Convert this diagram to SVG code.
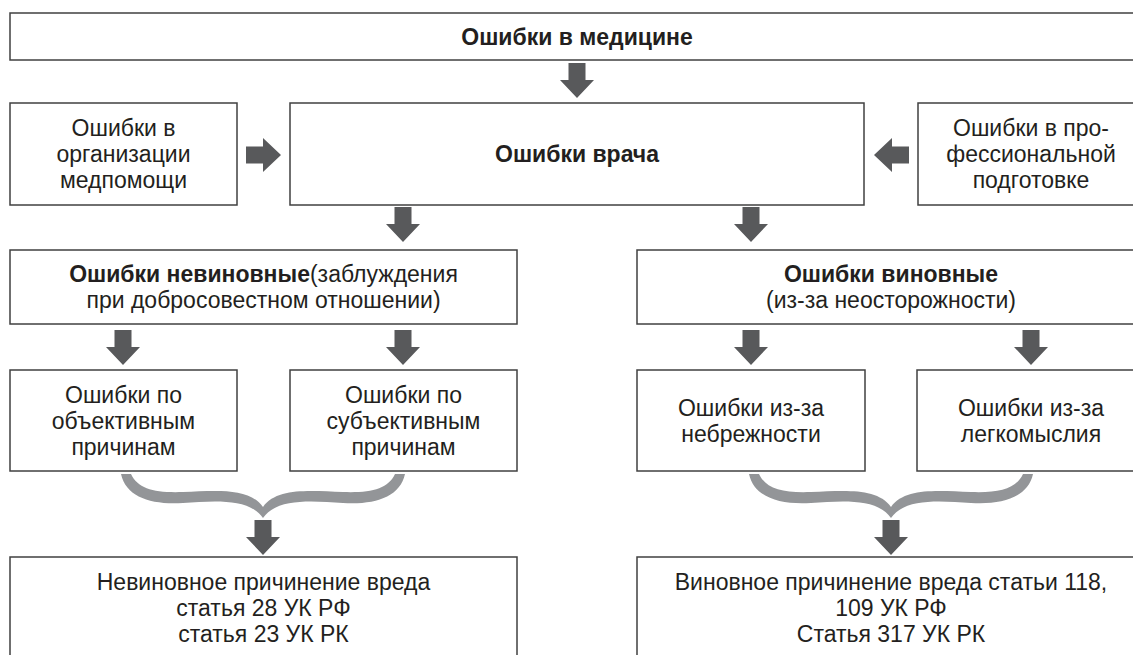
<svg xmlns="http://www.w3.org/2000/svg" width="1133" height="655" viewBox="0 0 1133 655">
<style>
.box{fill:#fff;stroke:#404040;stroke-width:1.5}
.t{font-family:"Liberation Sans",Arial,sans-serif;font-size:23px;fill:#231f20;text-anchor:middle}
.b{font-weight:bold}
.arr{fill:#58595b}
.brace{fill:#939598}
</style>
<defs>
<path id="ad" d="M-8.5,0 H8.5 V17 H17 L0,35 L-17,17 H-8.5 Z"/>
<path id="ar" d="M0,-8.5 H17 V-17 L35,0 L17,17 V8.5 H0 Z"/>
<path id="br" d="M-142,474 C-137,497 -112,505 -80,503 C-48,501 -14,498 0,518 C14,498 48,501 80,503 C112,505 137,497 142,474 L132,474 C125,489 108,493 80,492 C48,491 14,487 0,507 C-14,487 -48,491 -80,492 C-108,493 -125,489 -132,474 Z"/>
</defs>
<g id="n-top"><rect class="box" x="10" y="13" width="1135" height="47"/><text class="t b" x="577" y="44.5">Ошибки в медицине</text></g>
<g id="n-org"><rect class="box" x="10" y="103" width="227" height="102"/><text class="t" x="123.5" y="136">Ошибки в</text><text class="t" x="123.5" y="162">организации</text><text class="t" x="123.5" y="188">медпомощи</text></g>
<g id="n-doc"><rect class="box" x="290" y="103" width="574" height="102"/><text class="t b" x="577" y="162">Ошибки врача</text></g>
<g id="n-prof"><rect class="box" x="918" y="103" width="227" height="102"/><text class="t" x="1031" y="136">Ошибки в про-</text><text class="t" x="1031" y="162">фессиональной</text><text class="t" x="1031" y="188">подготовке</text></g>
<g id="n-inn"><rect class="box" x="10" y="250" width="507" height="74"/><text class="t" x="263.5" y="282"><tspan class="b">Ошибки невиновные</tspan>(заблуждения</text><text class="t" x="263.5" y="308">при добросовестном отношении)</text></g>
<g id="n-gui"><rect class="box" x="637" y="250" width="508" height="74"/><text class="t b" x="891" y="282">Ошибки виновные</text><text class="t" x="891" y="308">(из-за неосторожности)</text></g>
<g id="n-obj"><rect class="box" x="10" y="370" width="227" height="101"/><text class="t" x="123.5" y="402.5">Ошибки по</text><text class="t" x="123.5" y="428.5">объективным</text><text class="t" x="123.5" y="454.5">причинам</text></g>
<g id="n-sub"><rect class="box" x="290" y="370" width="227" height="101"/><text class="t" x="403.5" y="402.5">Ошибки по</text><text class="t" x="403.5" y="428.5">субъективным</text><text class="t" x="403.5" y="454.5">причинам</text></g>
<g id="n-neg"><rect class="box" x="637" y="370" width="228" height="101"/><text class="t" x="751" y="415.5">Ошибки из-за</text><text class="t" x="751" y="441.5">небрежности</text></g>
<g id="n-fri"><rect class="box" x="917" y="370" width="228" height="101"/><text class="t" x="1031" y="415.5">Ошибки из-за</text><text class="t" x="1031" y="441.5">легкомыслия</text></g>
<g id="n-res1"><rect class="box" x="10" y="557" width="507" height="110"/><text class="t" x="263.5" y="590">Невиновное причинение вреда</text><text class="t" x="263.5" y="616">статья 28 УК РФ</text><text class="t" x="263.5" y="642">статья 23 УК РК</text></g>
<g id="n-res2"><rect class="box" x="637" y="557" width="508" height="110"/><text class="t" x="891" y="590">Виновное причинение вреда статьи 118,</text><text class="t" x="891" y="616">109 УК РФ</text><text class="t" x="891" y="642">Статья 317 УК РК</text></g>
<g id="connectors">
<use href="#ad" class="arr" x="577" y="63"/>
<use href="#ar" class="arr" x="246" y="155"/>
<use href="#ar" class="arr" transform="translate(909,155) scale(-1,1)"/>
<use href="#ad" class="arr" x="403" y="207"/>
<use href="#ad" class="arr" x="751" y="207"/>
<use href="#ad" class="arr" x="123" y="330"/>
<use href="#ad" class="arr" x="403" y="330"/>
<use href="#ad" class="arr" x="751" y="330"/>
<use href="#ad" class="arr" x="1031" y="330"/>
<use href="#br" class="brace" x="263" y="0"/>
<use href="#br" class="brace" x="891" y="0"/>
<use href="#ad" class="arr" x="263" y="520"/>
<use href="#ad" class="arr" x="891" y="520"/>
</g>
</svg>
